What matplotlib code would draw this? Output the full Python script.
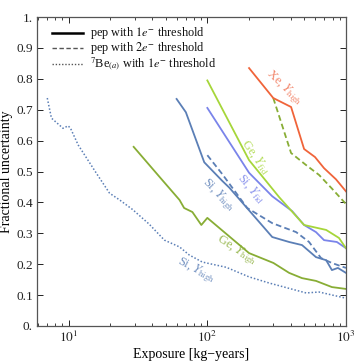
import math
import matplotlib
matplotlib.use("Agg")
import matplotlib.pyplot as plt
from matplotlib.ticker import FixedLocator, FuncFormatter, LogLocator, NullFormatter

plt.rcParams['font.family'] = ['Liberation Serif', 'DejaVu Serif']
plt.rcParams['mathtext.fontset'] = 'stix'

# ---- data ----
si_high_x = [60, 70, 95, 128, 144, 294, 389, 482, 608, 720, 792, 875, 1000]
si_high_y = [0.735, 0.692, 0.53, 0.47, 0.448, 0.288, 0.272, 0.262, 0.223, 0.213, 0.181, 0.188, 0.172]

si_high_2e_x = [100, 128, 194, 294, 437, 542, 661, 792, 1000]
si_high_2e_y = [0.553, 0.492, 0.382, 0.333, 0.304, 0.272, 0.22, 0.204, 0.188]

si_fid_x = [100, 200, 294, 409, 499, 608, 695, 860, 1000]
si_fid_y = [0.706, 0.496, 0.42, 0.372, 0.327, 0.304, 0.278, 0.272, 0.252]

ge_fid_x = [100, 200, 330, 499, 720, 891, 1000]
ge_fid_y = [0.795, 0.537, 0.417, 0.327, 0.311, 0.285, 0.252]

ge_high_x = [29.4, 47.4, 63, 68, 78, 90.5, 100, 200, 300, 389, 482, 608, 792, 1000]
ge_high_y = [0.58, 0.472, 0.408, 0.382, 0.369, 0.327, 0.35, 0.236, 0.204, 0.172, 0.155, 0.146, 0.126, 0.12]

xe_high_x = [200, 299, 402, 499, 598, 695, 847, 1000]
xe_high_y = [0.835, 0.738, 0.709, 0.573, 0.547, 0.511, 0.475, 0.436]

xe_high_2e_x = [299, 402, 516, 640, 792, 1000]
xe_high_2e_y = [0.738, 0.56, 0.521, 0.489, 0.445, 0.395]

be7_si_high_x = [7, 7.5, 9.1, 9.9, 10.3, 11.7, 15.8, 19.7, 23.3, 28.9, 38, 49, 63, 74, 92, 137, 200, 280, 516, 640, 1000]
be7_si_high_y = [0.738, 0.673, 0.64, 0.648, 0.64, 0.586, 0.495, 0.43, 0.408, 0.377, 0.33, 0.278, 0.256, 0.23, 0.207, 0.19, 0.159, 0.139, 0.107, 0.11, 0.09]

legend_labels = [r"pep with $1e^{-}$ threshold",
                 r"pep with $2e^{-}$ threshold",
                 r"$^{7}$Be$_{(a)}$ with $1e^{-}$ threshold"]

curve_labels = [r"Xe, $Y_{\rm high}$", r"Ge, $Y_{\rm fid}$", r"Si, $Y_{\rm fid}$",
                r"Si, $Y_{\rm high}$", r"Ge, $Y_{\rm high}$", r"Si, $Y_{\rm high}$"]

# ---- colours ----
c_si_high = '#5b7fb6'
c_si_fid = '#7a84ea'
c_ge_fid = '#a6d63a'
c_ge_high = '#88ad35'
c_xe = '#f0643a'

fig = plt.figure(figsize=(3.57, 3.64), dpi=100)
ax = fig.add_axes([0.1036, 0.1044, 0.8654, 0.8486])

lw = 1.3
dash = (0, (3.2, 1.8))
dot = (0, (1, 1.3))
ax.plot(be7_si_high_x, be7_si_high_y, color=c_si_high, lw=1.1, ls=dot)
ax.plot(ge_high_x, ge_high_y, color=c_ge_high, lw=lw)
ax.plot(si_high_x, si_high_y, color=c_si_high, lw=lw)
ax.plot(si_high_2e_x, si_high_2e_y, color=c_si_high, lw=lw, ls=dash)
ax.plot(si_fid_x, si_fid_y, color=c_si_fid, lw=lw)
ax.plot(ge_fid_x, ge_fid_y, color=c_ge_fid, lw=lw)
ax.plot(xe_high_2e_x, xe_high_2e_y, color=c_ge_high, lw=lw, ls=dash)
ax.plot(xe_high_x, xe_high_y, color=c_xe, lw=lw)

ax.set_xscale('log')
ax.set_xlim(5.9, 1000)
ax.set_ylim(0, 1)

ax.xaxis.set_major_locator(FixedLocator([10, 100, 1000]))
ax.xaxis.set_major_formatter(FuncFormatter(lambda v, p: r"$10^{%d}$" % round(math.log10(v))))
ax.xaxis.set_minor_locator(LogLocator(base=10, subs=range(2, 10)))
ax.xaxis.set_minor_formatter(NullFormatter())

yt = [i / 10 for i in range(11)]
ax.yaxis.set_major_locator(FixedLocator(yt))
def yfmt(v, p):
    if abs(v) < 1e-9:
        return "0."
    if abs(v - 1) < 1e-9:
        return "1."
    return "%.1f" % v
ax.yaxis.set_major_formatter(FuncFormatter(yfmt))

ax.tick_params(which='both', direction='in', top=True, right=True, labelsize=9.5,
               colors='#222222', pad=3)
ax.tick_params(which='major', length=4, width=0.7)
ax.tick_params(which='minor', length=2, width=0.6)
for s in ax.spines.values():
    s.set_color('#555555')
    s.set_linewidth(0.9)

ax.set_xlabel("Exposure [kg\u2212years]", fontsize=10, labelpad=2)
ax.set_ylabel("Fractional uncertainty", fontsize=10, labelpad=2)

# manual legend (axes coordinates)
leg_y = [0.950, 0.900, 0.848]
leg_styles = [dict(color='black', lw=1.8, ls='-'),
              dict(color='#555555', lw=1.0, ls=dash),
              dict(color='#555555', lw=1.0, ls=dot)]
for yy, st, txt in zip(leg_y, leg_styles, legend_labels):
    ax.plot([0.0485, 0.149], [yy, yy], transform=ax.transAxes, clip_on=False, **st)
    ax.text(0.1715, yy, txt, transform=ax.transAxes, fontsize=8.8, va='center', ha='left',
            color='#111111')

# curve labels
label_pos = [(358, 0.773, -44), (221, 0.547, -55), (207, 0.443, -50),
             (120, 0.424, -46), (162, 0.246, -33), (83, 0.181, -28)]
label_cols = ['#f07050', c_ge_fid, c_si_fid, c_si_high, c_ge_high, c_si_high]
for (xp, yp, rot), txt, col in zip(label_pos, curve_labels, label_cols):
    ax.text(xp, yp, txt, color=col, rotation=rot, fontsize=9,
            ha='center', va='center', rotation_mode='anchor', alpha=0.85)

fig.savefig("out.png", dpi=100)
